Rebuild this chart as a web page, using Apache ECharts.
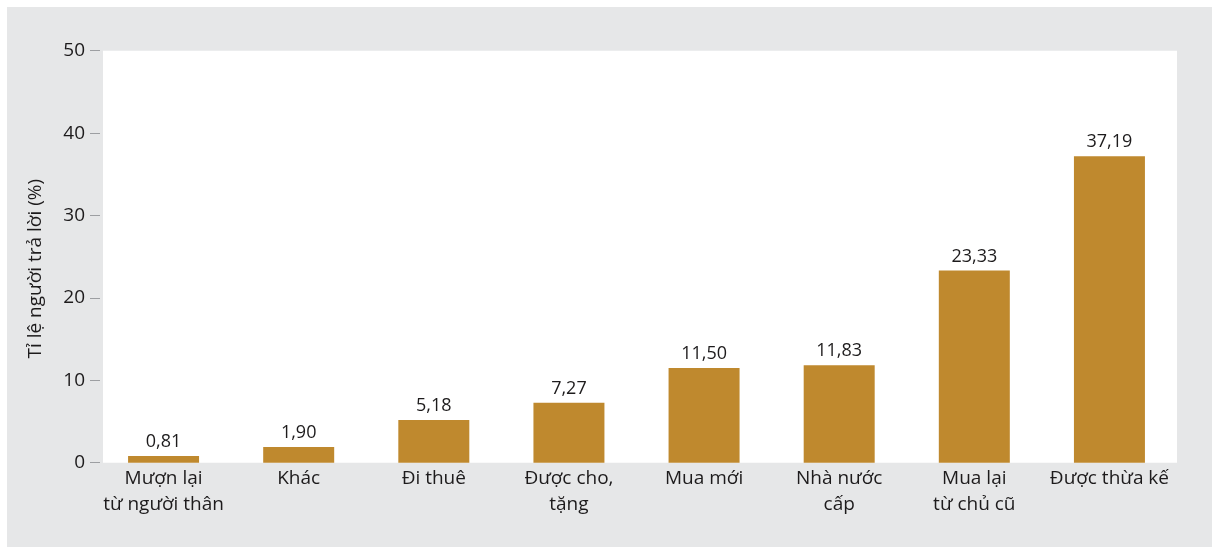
<!DOCTYPE html>
<html>
<head>
<meta charset="utf-8">
<script src="https://cdn.jsdelivr.net/npm/echarts@6/dist/echarts.min.js"></script>
<style>
  html, body { margin: 0; padding: 0; background: #fff; }
  #chart { width: 1212px; height: 547px; }
</style>
</head>
<body>
<div id="chart"></div>
<script>
// hình thức sở hữu nhà
const categories = [
  'Mượn lại\ntừ người thân',
  'Khác',
  'Đi thuê',
  'Được cho,\ntặng',
  'Mua mới',
  'Nhà nước\ncấp',
  'Mua lại\ntừ chủ cũ',
  'Được thừa kế'
];
const shares = [0.81, 1.90, 5.18, 7.27, 11.50, 11.83, 23.33, 37.19];
const yTicks = [0, 10, 20, 30, 40, 50];

const font = '"Open Sans", "Noto Sans", sans-serif';
const textColor = '#1d1b1c';

const myChart = echarts.init(document.getElementById('chart'));
const option = {
  backgroundColor: 'transparent',
  animation: false,
  textStyle: { fontFamily: font },
  graphic: [
    { type: 'rect', z: -20, shape: { x: 7, y: 7, width: 1205, height: 540 }, style: { fill: '#e6e7e8' } },
    { type: 'rect', z: -19, shape: { x: 103, y: 50.7, width: 1074, height: 412 }, style: { fill: '#ffffff' } }
  ],
  grid: {
    left: 96,
    right: 35,
    top: 50.7,
    bottom: 84.3
  },
  xAxis: {
    type: 'category',
    data: categories,
    axisLine: { show: false },
    axisTick: { show: false },
    axisLabel: {
      interval: 0,
      margin: 3,
      color: textColor,
      fontSize: 19,
      lineHeight: 26,
      fontFamily: font
    }
  },
  yAxis: {
    type: 'value',
    min: yTicks[0],
    max: yTicks[yTicks.length - 1],
    interval: 10,
    offset: -4,
    name: 'Tỉ lệ người trả lời (%)',
    nameLocation: 'middle',
    nameGap: 55,
    nameTextStyle: { color: textColor, fontSize: 19, fontFamily: font, padding: [0, 24, 0, 0] },
    splitLine: { show: false },
    axisLine: { show: false },
    axisTick: { show: true, length: 10, lineStyle: { color: '#9d9fa2', width: 1 } },
    axisLabel: { margin: 15, color: textColor, fontSize: 19, fontFamily: font }
  },
  series: [
    {
      type: 'bar',
      data: shares,
      barWidth: 71,
      itemStyle: { color: '#bf892e' },
      label: {
        show: true,
        position: 'top',
        distance: 5,
        color: textColor,
        fontSize: 18,
        fontFamily: font,
        formatter: p => p.value.toFixed(2).replace('.', ',')
      }
    }
  ]
};
myChart.setOption(option);
</script>
</body>
</html>
